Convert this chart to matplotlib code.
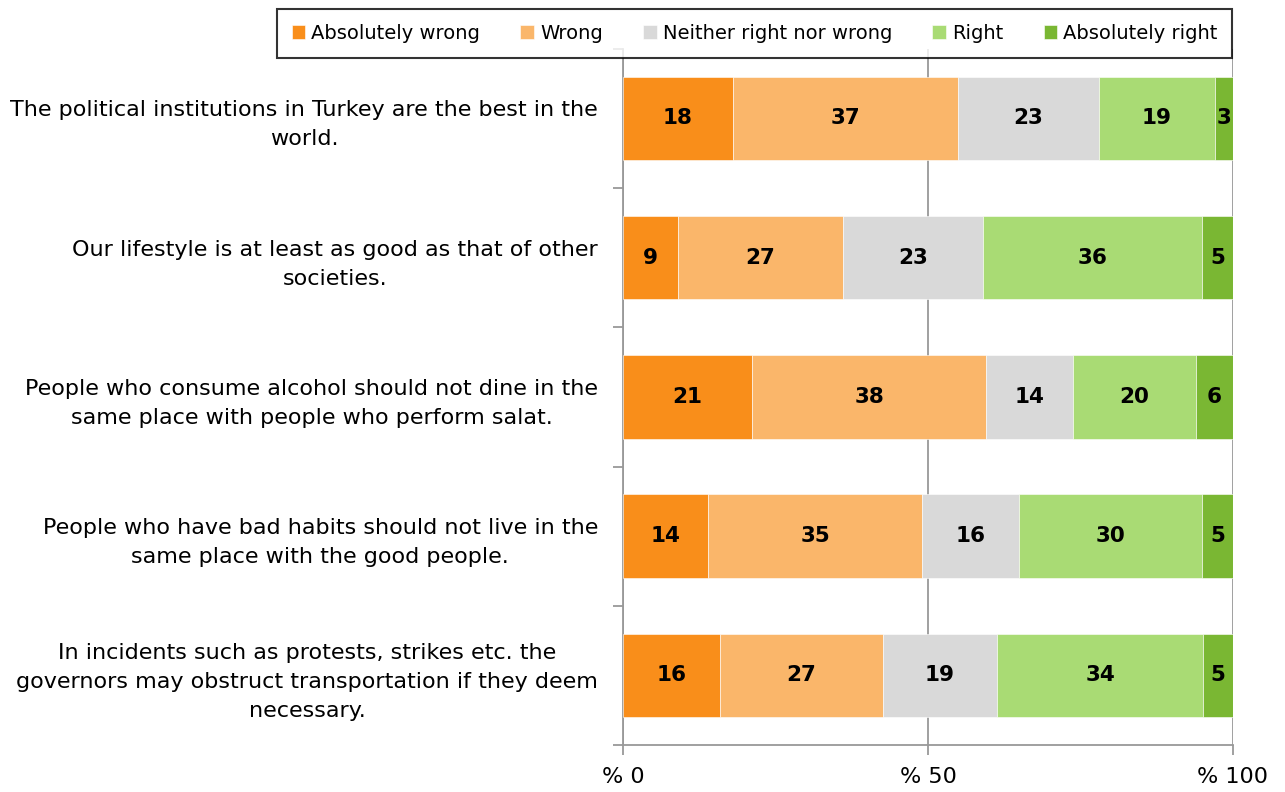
import numpy as np
import matplotlib
matplotlib.use("Agg")
import matplotlib.pyplot as plt

statements = [
    "The political institutions in Turkey are the best in the\nworld.",
    "Our lifestyle is at least as good as that of other\nsocieties.",
    "People who consume alcohol should not dine in the\nsame place with people who perform salat.",
    "People who have bad habits should not live in the\nsame place with the good people.",
    "In incidents such as protests, strikes etc. the\ngovernors may obstruct transportation if they deem\nnecessary.",
]
answers = ["Absolutely wrong", "Wrong", "Neither right nor wrong", "Right", "Absolutely right"]

absolutely_wrong = [18, 9, 21, 14, 16]
wrong = [37, 27, 38, 35, 27]
neither = [23, 23, 14, 16, 19]
right = [19, 36, 20, 30, 34]
absolutely_right = [3, 5, 6, 5, 5]

colors = ["#F98E1A", "#FAB66A", "#D9D9D9", "#A9DB74", "#7AB733"]

vals = np.array([absolutely_wrong, wrong, neither, right, absolutely_right], dtype=float)
# rows are shown as 100% stacked bars
shares = vals / vals.sum(axis=0) * 100

plt.rcParams['font.family'] = ['DejaVu Sans']
fig = plt.figure(figsize=(12.85, 7.92), dpi=100)
ax = fig.add_axes([0.4848, 0.0593, 0.4747, 0.879])

y = np.arange(len(statements))
left = np.zeros(len(statements))
bars = []
for i in range(len(answers)):
    b = ax.barh(y, shares[i], left=left, height=0.6, color=colors[i],
                edgecolor='white', linewidth=0.4, label=answers[i], zorder=3)
    bars.append(b)
    for j in range(len(statements)):
        ax.text(left[j] + shares[i][j] / 2, y[j], "%d" % vals[i][j],
                ha='center', va='center', fontsize=15.5, fontweight='heavy',
                color='black', zorder=4)
    left += shares[i]

ax.set_xlim(0, 100)
ax.set_ylim(len(statements) - 0.5, -0.5)

ax.set_xticks([0, 50, 100])
ax.set_xticklabels(["% 0", "% 50", "% 100"], fontsize=16)
ax.xaxis.grid(True, color='#999999', linewidth=1.3, zorder=0)
ax.tick_params(axis='x', length=7, color='#999999', width=1.3, pad=9)

# category labels sit between the boundary ticks
ax.set_yticks(np.arange(-0.5, len(statements), 1.0))
ax.set_yticklabels([])
ax.set_yticks(y, minor=True)
ax.set_yticklabels(statements, minor=True, fontsize=16)
ax.tick_params(axis='y', which='major', length=7, color='#999999', width=1.3)
ax.tick_params(axis='y', which='minor', length=0, pad=18)
for t in ax.get_yticklabels(minor=True):
    t.set_multialignment('center')
    t.set_linespacing(1.55)

for s in ['top', 'right']:
    ax.spines[s].set_visible(False)
for s in ['left', 'bottom']:
    ax.spines[s].set_color('#999999')
    ax.spines[s].set_linewidth(1.3)

leg = fig.legend(handles=bars, labels=answers, loc='center', ncol=5,
                 bbox_to_anchor=(0.2156, 0.9255, 0.7432, 0.0644), mode='expand',
                 fontsize=14, frameon=True, fancybox=False, handlelength=0.7,
                 handleheight=0.7, handletextpad=0.3, columnspacing=1.0,
                 borderaxespad=0, borderpad=0.75)
leg.get_frame().set_edgecolor('black')
leg.get_frame().set_linewidth(1.5)

fig.savefig("out.png", dpi=100)
